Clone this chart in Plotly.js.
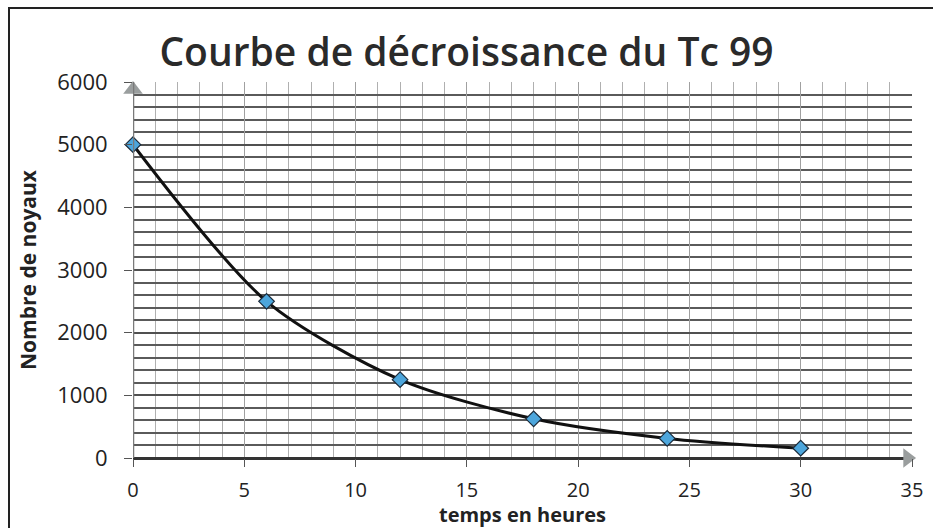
<!DOCTYPE html>
<html>
<head>
<meta charset="utf-8">
<script src="https://cdn.plot.ly/plotly-3.0.1.min.js"></script>
<style>
  html, body { margin:0; padding:0; background:#fff; }
  #wrap { position:relative; width:933px; height:528px; overflow:hidden; }
  #chart { position:absolute; left:0; top:0; width:933px; height:528px; }
  #frame { position:absolute; left:8px; top:7px; width:925px; height:521px; border-left:2px solid #222; border-top:2px solid #222; box-sizing:border-box; pointer-events:none; }
</style>
</head>
<body>
<div id="wrap"><div id="chart"></div><div id="frame"></div></div>
<script>
const titleText = "Courbe de décroissance du Tc 99";
const xTitle = "temps en heures";
const yTitle = "Nombre de noyaux";
const hours = [0, 6, 12, 18, 24, 30];
const nuclei = [5000, 2500, 1250, 625, 312.5, 156.25];
const xRange = [0, 35];
const yRange = [0, 6000];

const curve = {
  x: hours, y: nuclei, type: 'scatter', mode: 'lines+markers',
  line: { shape: 'spline', smoothing: 0.8, color: '#111', width: 3 },
  marker: { symbol: 'diamond', size: 12, color: '#4da6dc', line: { color: '#1a2a3a', width: 1.2 } },
  cliponaxis: false, hoverinfo: 'x+y'
};
// axis arrowheads (decoration at the end of each axis)
const arrowY = {
  x: [xRange[0]], y: [yRange[1] - 120], type: 'scatter', mode: 'markers',
  marker: { symbol: 'triangle-up', size: 17, color: '#9a9e9e' }, cliponaxis: false, hoverinfo: 'skip'
};
const arrowX = {
  x: [xRange[1] - 0.2], y: [yRange[0]], type: 'scatter', mode: 'markers',
  marker: { symbol: 'triangle-right', size: 17, color: '#9a9e9e' }, cliponaxis: false, hoverinfo: 'skip'
};

const layout = {
  width: 933, height: 528,
  margin: { l: 133, r: 21, t: 82, b: 70 },
  paper_bgcolor: '#fff', plot_bgcolor: '#fff',
  showlegend: false,
  font: { family: 'Open Sans, sans-serif', color: '#222' },
  title: { text: titleText, x: 0.5, xanchor: 'center', xref: 'container', y: 0.9, yanchor: 'middle', yref: 'container',
           font: { family: 'Open Sans, sans-serif', size: 39, color: '#2a2a2a', weight: 600 } },
  xaxis: {
    range: xRange, dtick: 5, tick0: 0, showgrid: true, gridcolor: '#a0a0a0', gridwidth: 1,
    minor: { dtick: 1, showgrid: true, gridcolor: '#b0b0b0', gridwidth: 1 },
    zeroline: false, showline: false,
    ticks: 'outside', ticklen: 8, tickcolor: '#555', tickwidth: 1,
    ticklabelstandoff: 6,
    tickfont: { size: 20, color: '#222', family: 'Open Sans, sans-serif' },
    title: { text: xTitle, standoff: 0, font: { size: 20, color: '#222', family: 'Open Sans, sans-serif', weight: 700 } },
    fixedrange: true
  },
  yaxis: {
    range: yRange, dtick: 1000, tick0: 0, showgrid: true, gridcolor: '#505050', gridwidth: 2,
    minor: { dtick: 200, showgrid: true, gridcolor: '#5a5a5a', gridwidth: 2 },
    zeroline: true, zerolinecolor: '#333', zerolinewidth: 3,
    showline: false,
    ticks: 'outside', ticklen: 8, tickcolor: '#555', tickwidth: 1,
    ticklabelstandoff: 12,
    tickfont: { size: 22, color: '#222', family: 'Open Sans, sans-serif' },
    title: { text: yTitle, standoff: 14, font: { size: 21, color: '#222', family: 'Open Sans, sans-serif', weight: 700 } },
    fixedrange: true
  },
  shapes: [
    { type: 'line', xref: 'x', yref: 'paper', x0: xRange[0], x1: xRange[0], y0: 0, y1: 1, line: { color: '#7a7a7a', width: 2.5 } }
  ]
};

Plotly.newPlot('chart', [curve, arrowY, arrowX], layout, { displayModeBar: false, staticPlot: true });
</script>
</body>
</html>
